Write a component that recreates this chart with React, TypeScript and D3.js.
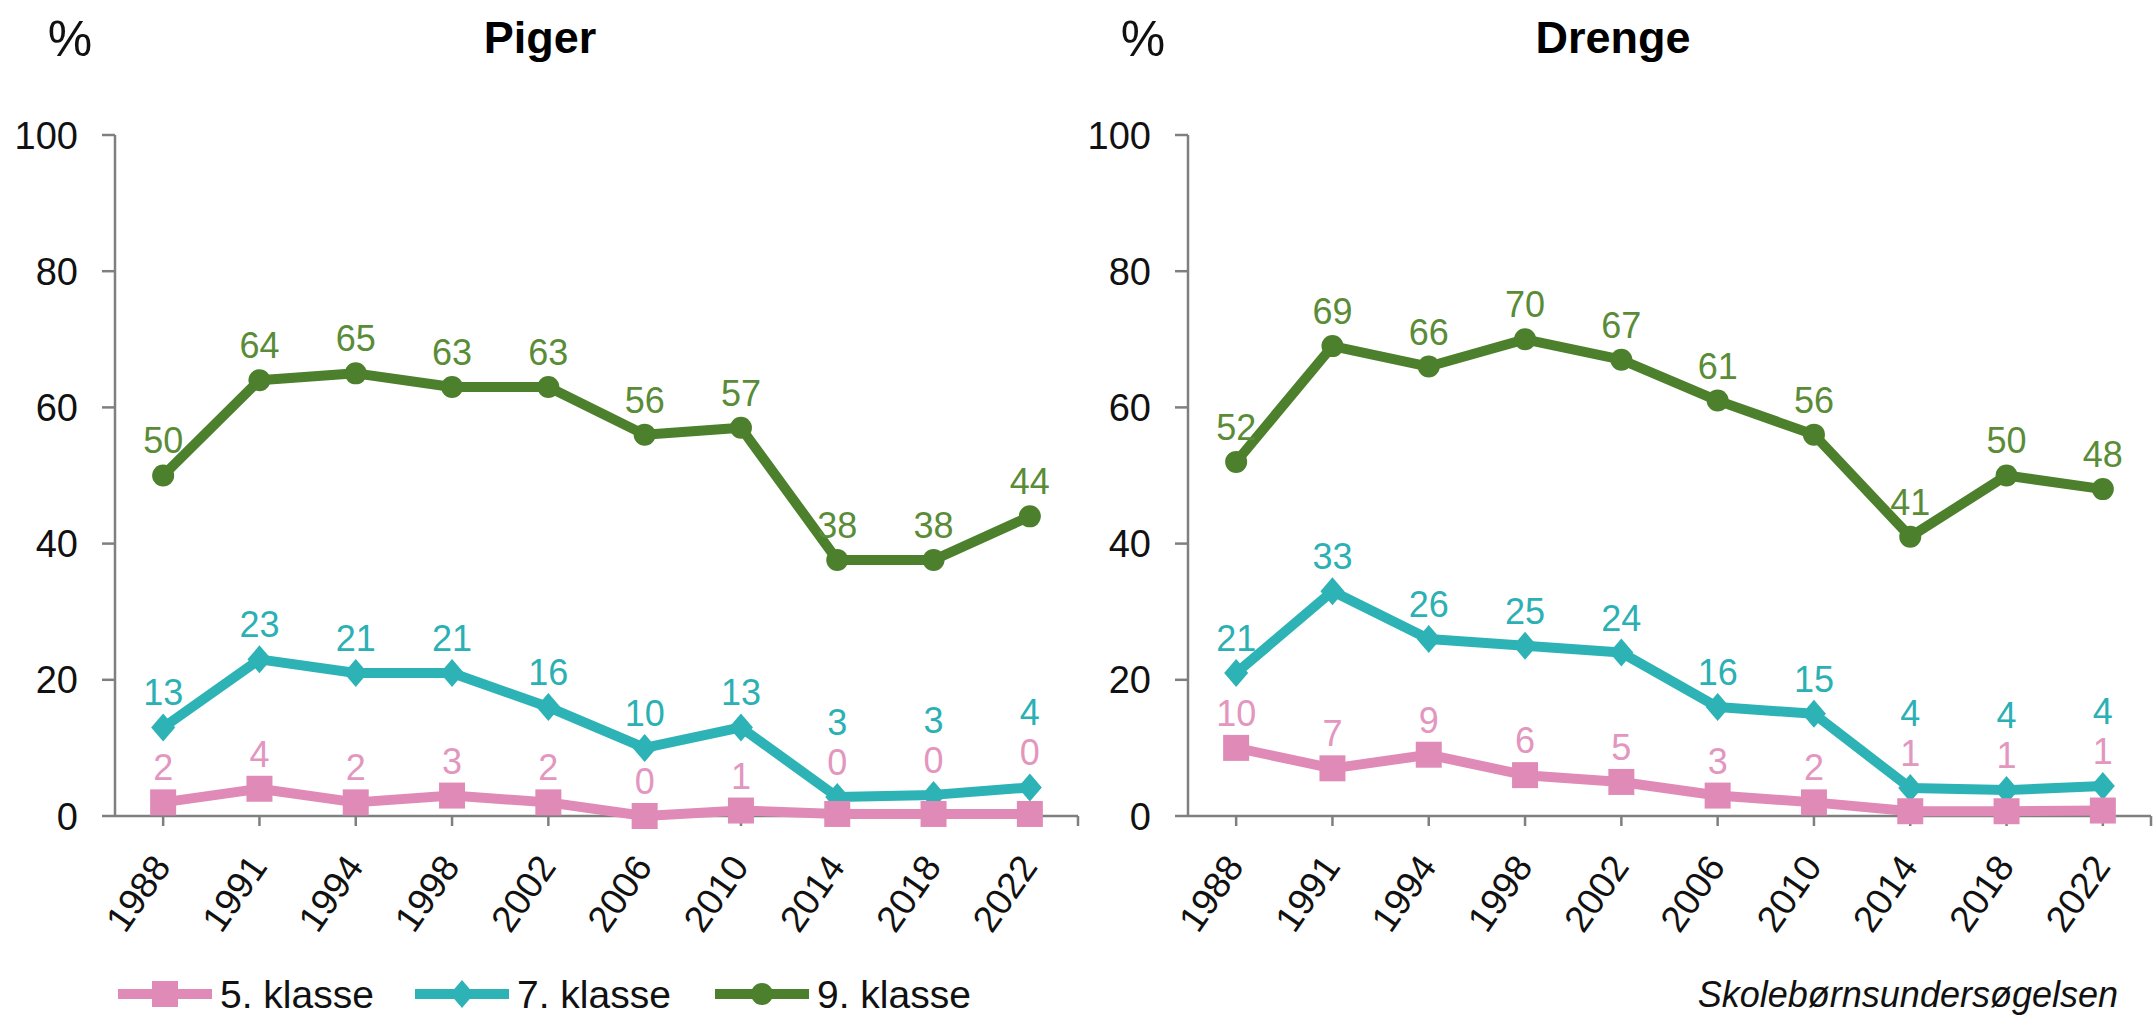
import React from "react";
import * as d3 from "d3";

const years = ["1988", "1991", "1994", "1998", "2002", "2006", "2010", "2014", "2018", "2022"];
const seriesNames = ["5. klasse", "7. klasse", "9. klasse"];
const pigerK5 = [2, 4, 2, 3, 2, 0, 0.8, 0.3, 0.3, 0.3];
const pigerK7 = [13, 23, 21, 21, 16, 10, 13, 2.8, 3.1, 4.2];
const pigerK9 = [50, 64, 65, 63, 63, 56, 57, 37.6, 37.6, 44];
const drengeK5 = [10, 7, 9, 6, 5, 3, 2, 0.7, 0.7, 0.8];
const drengeK7 = [21, 33, 26, 25, 24, 16, 15, 4.1, 3.8, 4.4];
const drengeK9 = [52, 69, 66, 70, 67, 61, 56, 41, 50, 48];
const yTicks = [0, 20, 40, 60, 80, 100];
const panelTitles = ["Piger", "Drenge"];
const sourceText = "Skolebørnsundersøgelsen";

const FONT = "'Liberation Sans', Arial, Helvetica, sans-serif";
const lineColors = ["#E08BB7", "#2DB3B6", "#4C802C"];
const labelColors = ["#E396BE", "#2BB0B4", "#5A8C38"];
const markers = ["square", "diamond", "circle"];
const AXIS = "#7f7f7f";

function Marker({ type, x, y, color }: { type: string; x: number; y: number; color: string }) {
  if (type === "square") return <rect x={x - 13} y={y - 13} width={26} height={26} fill={color} />;
  if (type === "diamond")
    return <path d={`M${x},${y - 14}L${x + 12},${y}L${x},${y + 14}L${x - 12},${y}Z`} fill={color} />;
  return <circle cx={x} cy={y} r={11} fill={color} />;
}

function Panel({ dx, title, data }: { dx: number; title: string; data: number[][] }) {
  const x = d3.scalePoint<string>().domain(years).range([115 + dx, 1078 + dx]).padding(0.5);
  const y = d3.scaleLinear().domain([0, 100]).range([816, 135]);
  const line = d3
    .line<number>()
    .x((_, i) => x(years[i]) as number)
    .y((d) => y(d));

  // label placement with simple collision avoidance
  const labelY: number[][] = data.map(() => years.map(() => 0));
  years.forEach((_, i) => {
    const order = [0, 1, 2].sort((a, b) => data[a][i] - data[b][i]);
    const placed: number[] = [];
    order.forEach((s) => {
      const py = y(data[s][i]);
      let ly = py - 35;
      [0, 1, 2].forEach((t) => {
        if (t === s) return;
        const pt = y(data[t][i]);
        if (pt < py && py - pt < 45) ly = Math.min(ly, pt - 35);
      });
      placed.forEach((p) => {
        if (Math.abs(ly - p) < 40) ly = p - 40;
      });
      placed.push(ly);
      labelY[s][i] = ly;
    });
  });

  const x0 = 115 + dx;
  const x1 = 1078 + dx;
  return (
    <g>
      <text x={540 + dx} y={53} textAnchor="middle" fontSize={45} fontWeight="bold" fill="#000">
        {title}
      </text>
      <text x={70 + dx} y={56} textAnchor="middle" fontSize={50} fill="#111">
        %
      </text>
      {/* y axis */}
      <line x1={x0} x2={x0} y1={y(0)} y2={y(100)} stroke={AXIS} strokeWidth={2.5} />
      {yTicks.map((t) => (
        <g key={t}>
          <line x1={x0 - 13} x2={x0} y1={y(t)} y2={y(t)} stroke={AXIS} strokeWidth={2.5} />
          <text x={x0 - 37} y={y(t)} dy="0.36em" textAnchor="end" fontSize={38} fill="#111">
            {t}
          </text>
        </g>
      ))}
      {/* x axis */}
      <line x1={x0} x2={x1} y1={y(0)} y2={y(0)} stroke={AXIS} strokeWidth={2.5} />
      {years.map((yr) => (
        <line key={yr} x1={x(yr)} x2={x(yr)} y1={y(0)} y2={y(0) + 10} stroke={AXIS} strokeWidth={2.5} />
      ))}
      <line x1={x1} x2={x1} y1={y(0)} y2={y(0) + 10} stroke={AXIS} strokeWidth={2.5} />
      {years.map((yr) => (
        <text
          key={yr}
          transform={`translate(${(x(yr) as number) + 9},${y(0) + 51}) rotate(-55)`}
          textAnchor="end"
          fontSize={37}
          fill="#111"
        >
          {yr}
        </text>
      ))}
      {/* series */}
      {[2, 1, 0].map((s) => (
        <g key={s}>
          <path d={line(data[s]) || ""} fill="none" stroke={lineColors[s]} strokeWidth={10} strokeLinejoin="round" />
          {data[s].map((v, i) => (
            <Marker key={i} type={markers[s]} x={x(years[i]) as number} y={y(v)} color={lineColors[s]} />
          ))}
        </g>
      ))}
      {[2, 1, 0].map((s) =>
        data[s].map((v, i) => (
          <text
            key={`${s}-${i}`}
            x={x(years[i]) as number}
            y={labelY[s][i]}
            dy="0.36em"
            textAnchor="middle"
            fontSize={36}
            fill={labelColors[s]}
          >
            {Math.round(v)}
          </text>
        ))
      )}
    </g>
  );
}

export default function App() {
  const legendX = [118, 415, 715];
  return (
    <div style={{ position: "absolute", left: 0, top: 0 }}>
      <svg width={2154} height={1016} style={{ display: "block", background: "#fff", fontFamily: FONT }}>
        <Panel dx={0} title={panelTitles[0]} data={[pigerK5, pigerK7, pigerK9]} />
        <Panel dx={1073} title={panelTitles[1]} data={[drengeK5, drengeK7, drengeK9]} />
        {seriesNames.map((name, s) => (
          <g key={name}>
            <line x1={legendX[s]} x2={legendX[s] + 94} y1={994} y2={994} stroke={lineColors[s]} strokeWidth={10} />
            <Marker type={markers[s]} x={legendX[s] + 47} y={994} color={lineColors[s]} />
            <text x={legendX[s] + 102} y={1008} fontSize={39} fill="#111">
              {name}
            </text>
          </g>
        ))}
        <text x={2118} y={1007} textAnchor="end" fontSize={36} fontStyle="italic" fill="#111">
          {sourceText}
        </text>
      </svg>
    </div>
  );
}
